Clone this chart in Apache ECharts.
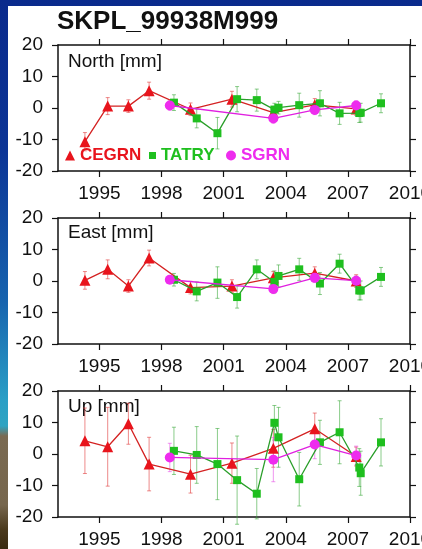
<!DOCTYPE html>
<html>
<head>
<meta charset="utf-8">
<script src="https://cdn.jsdelivr.net/npm/echarts@6/dist/echarts.min.js"></script>
<style>
html,body{margin:0;padding:0;}
body{width:422px;height:549px;overflow:hidden;position:relative;
background:linear-gradient(to bottom,#0a2a8c 0px,#0c3596 150px,#1763ae 300px,#2a9fc6 400px,#2fa4c2 426px,#7a6a52 436px,#76664d 505px,#4a391c 530px,#3a2a10 549px);}
#paper{position:absolute;left:8px;top:6px;width:414px;height:543px;background:#ffffff;}
#chart{position:absolute;left:0;top:0;width:422px;height:549px;}
</style>
</head>
<body>
<div id="paper"></div>
<div id="chart"></div>
<script>
// ---- data ----
const stationTitle = 'SKPL_99938M999';
const panelTitles = ['North [mm]', 'East [mm]', 'Up [mm]'];
const yearTicks = [1995, 1998, 2001, 2004, 2007, 2010];
const valueTicks = [-20, -10, 0, 10, 20];

const cegrnYears = [1994.3, 1995.4, 1996.4, 1997.4, 1999.4, 2001.4, 2003.4, 2005.4, 2007.4];
const tatryYears = [1998.6, 1999.7, 2000.7, 2001.65, 2002.6, 2003.45, 2003.65, 2004.65, 2005.65, 2006.6, 2007.55, 2007.62, 2008.6];
const sgrnYears = [1998.4, 2003.4, 2005.4, 2007.4];

const cegrnN = [-10.7, 0.6, 0.6, 5.5, -0.4, 2.8, -1.5, 1.0, -0.3];
const cegrnNErr = [2.9, 2.7, 2.0, 2.7, 2.0, 2.5, 2.0, 2.0, 2.0];
const tatryN = [1.7, -3.3, -8.0, 2.8, 2.5, -0.5, 0.1, 0.9, 1.5, -1.7, -1.6, -1.5, 1.5];
const tatryNErr = [2.5, 3.0, 5.0, 4.0, 3.5, 2.0, 2.0, 3.8, 4.0, 3.5, 3.0, 3.0, 3.0];
const sgrnN = [0.8, -3.3, -0.6, 0.8];
const sgrnNErr = [1.5, 1.5, 1.5, 1.5];

const cegrnE = [0.2, 3.7, -1.6, 7.3, -2.1, -1.6, 1.0, 2.5, 0.0];
const cegrnEErr = [2.8, 3.0, 2.0, 2.5, 2.0, 2.0, 2.0, 2.0, 2.0];
const tatryE = [0.4, -3.3, -0.5, -5.1, 3.7, -0.3, 1.6, 3.7, -0.8, 5.5, -3.0, -3.0, 1.3];
const tatryEErr = [2.0, 3.0, 5.0, 3.5, 3.0, 3.5, 3.5, 3.5, 3.5, 3.0, 3.0, 3.0, 3.0];
const sgrnE = [0.4, -2.5, 1.0, 0.1];
const sgrnEErr = [1.2, 1.5, 1.5, 1.5];

const cegrnU = [4.2, 2.3, 9.6, -3.2, -6.4, -2.9, 1.8, 8.0, -0.8];
const cegrnUErr = [10.4, 12.5, 6.5, 8.5, 6.0, 6.4, 6.0, 5.0, 3.0];
const tatryU = [1.0, -0.3, -3.2, -8.3, -12.6, 9.9, 5.3, -8.0, 3.7, 6.9, -4.3, -6.1, 3.7];
const tatryUErr = [7.5, 9.0, 11.3, 14.0, 8.0, 5.5, 9.5, 8.5, 7.0, 10.0, 6.0, 7.0, 7.5];
const sgrnU = [-1.1, -1.8, 3.0, -0.5];
const sgrnUErr = [4.5, 7.0, 4.5, 3.0];

// ---- styling ----
const FONT = "'Liberation Sans', Arial, Helvetica, sans-serif";
const C_RED = '#e8141c', C_RED_LINE = '#d42222', C_RED_ERR = 'rgba(225,60,60,0.6)';
const C_GRN = '#1fbf1f', C_GRN_LINE = '#2a9e2a', C_GRN_ERR = 'rgba(60,170,60,0.6)';
const C_MAG = '#ee2cee', C_MAG_LINE = '#e020e0', C_MAG_ERR = 'rgba(230,80,230,0.6)';

const gridTops = [45, 218, 391];
const grids = gridTops.map(t => ({left: 58, top: t, width: 352, height: 126, show: false,
  containLabel: false, outerBoundsMode: 'none'}));

const xAxes = [], yAxes = [];
gridTops.forEach((t, g) => {
  const base = {
    type: 'value', min: 1993, max: 2010, gridIndex: g,
    axisLine: {show: true, onZero: false, lineStyle: {color: '#111', width: 1.5}},
    axisTick: {show: true, length: 6, customValues: yearTicks, lineStyle: {color: '#111', width: 1.2}},
    splitLine: {show: false}
  };
  xAxes.push(Object.assign({}, base, {position: 'bottom',
    axisLabel: {show: true, customValues: yearTicks, margin: 13, fontSize: 19, fontFamily: FONT, color: '#111',
      formatter: v => String(v)}}));
  xAxes.push(Object.assign({}, base, {position: 'top', axisLabel: {show: false}}));
  const ybase = {
    type: 'value', min: -20, max: 20, interval: 10, gridIndex: g,
    axisLine: {show: true, onZero: false, lineStyle: {color: '#111', width: 1.5}},
    axisTick: {show: true, length: 6, lineStyle: {color: '#111', width: 1.2}},
    splitLine: {show: false}
  };
  yAxes.push(Object.assign({}, ybase, {position: 'left',
    axisLabel: {show: true, margin: 15, fontSize: 19, fontFamily: FONT, color: '#111'}}));
  yAxes.push(Object.assign({}, ybase, {position: 'right', axisLabel: {show: false}}));
});

function errSeries(name, xs, ys, es, color, g) {
  return {
    type: 'custom', name: name, xAxisIndex: g * 2, yAxisIndex: g * 2, z: 2, silent: true, clip: false,
    data: xs.map((x, i) => [x, ys[i], es[i]]),
    renderItem: function (params, api) {
      const x = api.value(0), y = api.value(1), e = api.value(2);
      const a = api.coord([x, y + e]), b = api.coord([x, y - e]);
      const w = 2;
      const st = {stroke: color, lineWidth: 1};
      return {type: 'group', children: [
        {type: 'line', shape: {x1: a[0], y1: a[1], x2: b[0], y2: b[1]}, style: st},
        {type: 'line', shape: {x1: a[0] - w, y1: a[1], x2: a[0] + w, y2: a[1]}, style: st},
        {type: 'line', shape: {x1: b[0] - w, y1: b[1], x2: b[0] + w, y2: b[1]}, style: st}
      ]};
    }
  };
}
function lineSeries(name, xs, ys, symbol, size, color, lineColor, g, z) {
  return {
    type: 'line', name: name, xAxisIndex: g * 2, yAxisIndex: g * 2, z: z,
    data: xs.map((x, i) => [x, ys[i]]),
    symbol: symbol, symbolSize: size, showAllSymbol: true,
    itemStyle: {color: color},
    lineStyle: {color: lineColor, width: 1.3},
    emphasis: {disabled: true}
  };
}

const panels = [
  [cegrnN, cegrnNErr, tatryN, tatryNErr, sgrnN, sgrnNErr],
  [cegrnE, cegrnEErr, tatryE, tatryEErr, sgrnE, sgrnEErr],
  [cegrnU, cegrnUErr, tatryU, tatryUErr, sgrnU, sgrnUErr]
];
const series = [];
panels.forEach((p, g) => {
  series.push(errSeries('CEGRN', cegrnYears, p[0], p[1], C_RED_ERR, g));
  series.push(errSeries('TATRY', tatryYears, p[2], p[3], C_GRN_ERR, g));
  series.push(errSeries('SGRN', sgrnYears, p[4], p[5], C_MAG_ERR, g));
  series.push(lineSeries('CEGRN', cegrnYears, p[0], 'triangle', 11, C_RED, C_RED_LINE, g, 3));
  series.push(lineSeries('TATRY', tatryYears, p[2], 'rect', 8, C_GRN, C_GRN_LINE, g, 4));
  series.push(lineSeries('SGRN', sgrnYears, p[4], 'circle', 10, C_MAG, C_MAG_LINE, g, 5));
});

function legendFor(name, icon, left, w, color) {
  return {
    show: true, left: left, top: 147, padding: 0, itemWidth: w, itemHeight: w, itemGap: 5,
    icon: icon, selectedMode: false,
    data: [{name: name, itemStyle: {color: color}, textStyle: {color: color}}],
    textStyle: {fontSize: 17, fontWeight: 'bold', fontFamily: FONT, color: color}
  };
}

const chart = echarts.init(document.getElementById('chart'), null, {renderer: 'canvas'});
chart.setOption({
  animation: false,
  backgroundColor: 'transparent',
  title: {text: stationTitle, left: 57, top: 9, padding: 0,
    textStyle: {fontSize: 26, fontWeight: 'bold', fontFamily: FONT, color: '#111'}},
  legend: [
    legendFor('CEGRN', 'triangle', 65, 10, C_RED),
    legendFor('TATRY', 'rect', 149, 7, C_GRN),
    legendFor('SGRN', 'circle', 226, 10, C_MAG)
  ],
  graphic: panelTitles.map((t, g) => ({
    type: 'text', left: 68, top: gridTops[g] + [7, 5, 6][g], z: 1,
    style: {text: t, fontSize: 19, fontFamily: FONT, fill: '#111'}
  })),
  grid: grids,
  xAxis: xAxes,
  yAxis: yAxes,
  series: series
});
</script>
</body>
</html>
